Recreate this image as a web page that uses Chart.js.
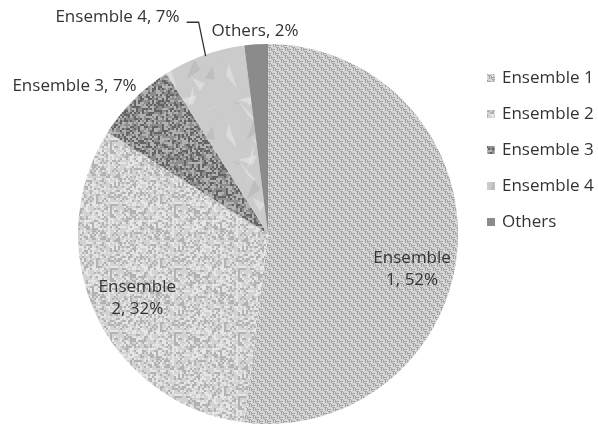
<!DOCTYPE html>
<html>
<head>
<meta charset="utf-8">
<script src="https://cdn.jsdelivr.net/npm/chart.js@4/dist/chart.umd.min.js"></script>
<style>
  html, body { margin: 0; padding: 0; background: #fff; }
  #wrap { width: 598px; height: 430px; position: relative; }
  canvas { filter: blur(0.5px); }
</style>
</head>
<body>
<div id="wrap"><canvas id="pie"></canvas></div>
<script>
// chart values
const categories = ['Ensemble 1', 'Ensemble 2', 'Ensemble 3', 'Ensemble 4', 'Others'];
const shares = [52, 32, 7, 7, 2];
const sliceLabels = [['Ensemble', '1, 52%'], ['Ensemble', '2, 32%'], ['Ensemble 3, 7%'], ['Ensemble 4, 7%'], ['Others, 2%']];

// deterministic texture noise
function hash(x, y, s) {
    let n = Math.imul(x, 374761393) + Math.imul(y, 668265263) + Math.imul(s, 1442695041);
    n = Math.imul(n ^ (n >>> 13), 1274126177);
    return ((n ^ (n >>> 16)) >>> 0) / 4294967296;
}

function makePattern(size, draw) {
    const c = document.createElement('canvas');
    c.width = size; c.height = size;
    const g = c.getContext('2d');
    draw(g, size);
    return document.getElementById('pie').getContext('2d').createPattern(c, 'repeat');
}

const weave = makePattern(8, (g) => {
    g.fillStyle = '#d6d6d6';
    g.fillRect(0, 0, 8, 8);
    g.fillStyle = '#a4a4a4';
    g.fillRect(0, 1, 3, 1); g.fillRect(0, 3, 3, 1);
    g.fillRect(5, 0, 1, 3); g.fillRect(7, 0, 1, 3);
    g.fillRect(1, 4, 1, 3); g.fillRect(3, 4, 1, 3);
    g.fillRect(4, 5, 3, 1); g.fillRect(4, 7, 3, 1);
});

function speckle(size, base, dark, light, seed, density) {
    return makePattern(size, (g, s) => {
        g.fillStyle = base;
        g.fillRect(0, 0, s, s);
        for (let y = 0; y < s; y += 2) {
            for (let x = 0; x < s; x += 2) {
                const v = hash(x, y, seed);
                if (v < density) { g.fillStyle = dark; g.fillRect(x, y, 2, 2); }
                else if (v > 1 - density) { g.fillStyle = light; g.fillRect(x, y, 2, 2); }
            }
        }
    });
}

const speckleLight = speckle(64, '#d2d2d2', '#b2b2b2', '#e6e6e6', 7, 0.3);
const speckleDark = speckle(64, '#8e8e8e', '#636363', '#b2b2b2', 3, 0.32);

const foil = makePattern(60, (g, s) => {
    g.fillStyle = '#cbcbcb';
    g.fillRect(0, 0, s, s);
    for (let i = 0; i < 14; i++) {
        const x0 = hash(i, 1, 11) * s, y0 = hash(i, 2, 11) * s;
        const x1 = x0 + (hash(i, 3, 11) - 0.3) * 30, y1 = y0 + (hash(i, 4, 11) - 0.5) * 40;
        const x2 = x0 + (hash(i, 5, 11) - 0.5) * 30, y2 = y0 + (hash(i, 6, 11) - 0.5) * 30;
        g.fillStyle = i % 2 ? 'rgba(230,230,230,0.6)' : 'rgba(170,170,170,0.4)';
        g.beginPath(); g.moveTo(x0, y0); g.lineTo(x1, y1); g.lineTo(x2, y2); g.closePath(); g.fill();
    }
});

const fills = [weave, speckleLight, speckleDark, foil, '#8b8b8b'];
const textColor = '#333333';
const labelFont = '17px "Open Sans", Lato, sans-serif';

// where each slice label sits: fraction of radius along mid-angle, then a shift
const labelRadius = [0.76, 0.76, 1.0, 1.0, 1.0];
const labelShift = [[0, 26], [0, 3], [3, -13], [-24, -38], [-1, -13]];
const labelAlign = ['center', 'center', 'right', 'right', 'center'];

const sliceLabelPlugin = {
    id: 'sliceLabels',
    afterDatasetsDraw(chart) {
        const ctx = chart.ctx;
        const arcs = chart.getDatasetMeta(0).data;
        ctx.save();
        ctx.font = labelFont;
        ctx.fillStyle = textColor;
        ctx.textBaseline = 'middle';
        arcs.forEach((arc, i) => {
            const p = arc.getProps(['x', 'y', 'startAngle', 'endAngle', 'outerRadius'], true);
            const mid = (p.startAngle + p.endAngle) / 2;
            const ex = p.x + Math.cos(mid) * p.outerRadius * labelRadius[i];
            const ey = p.y + Math.sin(mid) * p.outerRadius * labelRadius[i];
            const tx = ex + labelShift[i][0];
            const ty = ey + labelShift[i][1];
            if (i === 3) {
                // leader line
                ctx.strokeStyle = '#333333';
                ctx.lineWidth = 1.3;
                ctx.beginPath();
                ctx.moveTo(ex + 2, ey + 1);
                ctx.lineTo(ex - 5, ey - 33);
                ctx.lineTo(ex - 17, ey - 33);
                ctx.stroke();
            }
            ctx.textAlign = labelAlign[i];
            const lines = sliceLabels[i];
            lines.forEach((line, k) => {
                ctx.fillText(line, tx, ty + (k - (lines.length - 1) / 2) * 22);
            });
        });
        ctx.restore();
    }
};

const legendPlugin = {
    id: 'sideLegend',
    afterDraw(chart) {
        const ctx = chart.ctx;
        ctx.save();
        ctx.font = labelFont;
        ctx.textBaseline = 'middle';
        ctx.textAlign = 'left';
        categories.forEach((name, i) => {
            const y = 78 + i * 36;
            ctx.fillStyle = fills[i];
            ctx.fillRect(487, y - 4, 8, 8);
            ctx.fillStyle = textColor;
            ctx.fillText(name, 502, y);
        });
        ctx.restore();
    }
};

new Chart(document.getElementById('pie'), {
    type: 'pie',
    data: {
        labels: categories,
        datasets: [{
            data: shares,
            backgroundColor: fills,
            borderWidth: 0
        }]
    },
    options: {
        responsive: true,
        maintainAspectRatio: false,
        animation: false,
        layout: { padding: { left: 78, right: 140, top: 44, bottom: 6 } },
        plugins: {
            legend: { display: false },
            tooltip: { enabled: false }
        }
    },
    plugins: [sliceLabelPlugin, legendPlugin]
});
</script>
</body>
</html>
